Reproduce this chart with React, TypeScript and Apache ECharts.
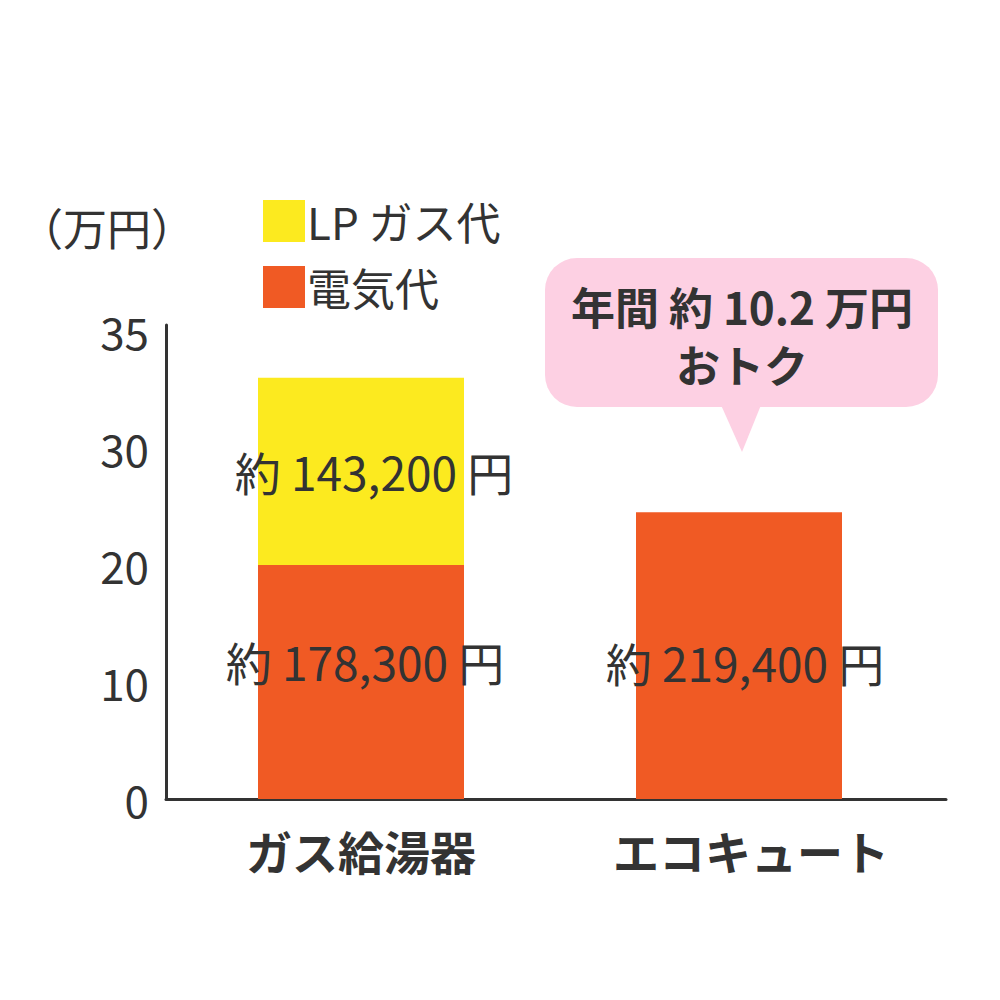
import React, { useEffect, useRef } from "react";
import * as echarts from "echarts";

const categories = ["ガス給湯器", "エコキュート"];
// bar heights as drawn in the picture (in the axis' units)
const electricValues = [20, 24.5];
const gasValues = [16, null];
const electricLabels = ["約 178,300 円", "約 219,400 円"];
const gasLabels = ["約 143,200 円", ""];
const tickValues = [0, 10, 20, 30, 40];
const tickLabels = ["0", "10", "20", "30", "35"];
const unitLabel = "（万円）";
const calloutLines = ["年間 約 10.2 万円", "おトク"];

const FONT = "'Noto Sans CJK JP', 'Noto Sans', sans-serif";
const TEXT = "#333333";
const ORANGE = "#F05A24";
const YELLOW = "#FCEA1F";
const PINK = "#FDD0E3";

const App: React.FC = () => {
  const chartRef = useRef<HTMLDivElement>(null);

  useEffect(() => {
    if (!chartRef.current) return;
    const chart = echarts.init(chartRef.current, null, { renderer: "svg" });

    const yMax = 40.5;

    chart.setOption({
      animation: false,
      textStyle: { fontFamily: FONT },
      title: {
        text: unitLabel,
        left: 14,
        top: 200,
        textStyle: { fontFamily: FONT, fontSize: 44, fontWeight: "normal", color: TEXT },
      },
      legend: {
        orient: "vertical",
        left: 258,
        top: 194,
        itemWidth: 42,
        itemHeight: 42,
        itemGap: 22,
        icon: "rect",
        data: ["LP ガス代", "電気代"],
        textStyle: { fontFamily: FONT, fontSize: 44, color: TEXT, padding: [0, 0, 0, -3] },
      },
      grid: [
        // visible axes
        { left: 166, right: 54, top: 325, bottom: 201 },
        // bars
        { left: 172, right: 72, top: 325, bottom: 201 },
      ],
      xAxis: [
        {
          type: "category",
          gridIndex: 0,
          data: categories,
          axisLine: { lineStyle: { color: TEXT, width: 3 } },
          axisTick: { show: false },
          axisLabel: {
            margin: 28,
            fontFamily: FONT,
            fontSize: 46,
            fontWeight: "bold",
            color: TEXT,
          },
        },
        {
          type: "category",
          gridIndex: 1,
          data: categories,
          show: false,
        },
      ],
      yAxis: [
        {
          type: "value",
          gridIndex: 0,
          min: 0,
          max: yMax,
          interval: 10,
          axisLine: { show: true, lineStyle: { color: TEXT, width: 3 } },
          axisTick: { show: false },
          splitLine: { show: false },
          axisLabel: {
            showMaxLabel: false,
            margin: 17,
            fontFamily: FONT,
            fontSize: 44,
            color: TEXT,
            formatter: (v: number) => {
              const i = tickValues.indexOf(v);
              return i >= 0 ? tickLabels[i] : "";
            },
          },
        },
        {
          type: "value",
          gridIndex: 1,
          min: 0,
          max: yMax,
          show: false,
        },
      ],
      series: [
        {
          name: "電気代",
          type: "bar",
          xAxisIndex: 1,
          yAxisIndex: 1,
          stack: "cost",
          barWidth: 206,
          itemStyle: { color: ORANGE },
          data: electricValues.map((v, i) => ({
            value: v,
            label: { offset: i === 0 ? [4, -21] : [6, 6] },
          })),
          label: {
            show: true,
            position: "inside",
            fontFamily: FONT,
            fontSize: 46,
            color: TEXT,
            formatter: (p: any) => electricLabels[p.dataIndex],
          },
        },
        {
          name: "LP ガス代",
          type: "bar",
          xAxisIndex: 1,
          yAxisIndex: 1,
          stack: "cost",
          barWidth: 206,
          itemStyle: { color: YELLOW },
          data: gasValues,
          label: {
            show: true,
            position: "inside",
            offset: [13, 0],
            fontFamily: FONT,
            fontSize: 46,
            color: TEXT,
            formatter: (p: any) => gasLabels[p.dataIndex],
          },
        },
      ],
      graphic: [
        {
          type: "group",
          left: 545,
          top: 258,
          children: [
            {
              type: "rect",
              shape: { x: 0, y: 0, width: 393, height: 149, r: 32 },
              style: { fill: PINK },
            },
            {
              type: "polygon",
              shape: { points: [[176, 147], [216, 147], [197, 194]] },
              style: { fill: PINK },
            },
            {
              type: "text",
              x: 197,
              y: 48,
              style: {
                text: calloutLines[0],
                fontFamily: FONT,
                fontSize: 44,
                lineHeight: 46,
                fontWeight: "bold",
                fill: TEXT,
                align: "center",
                verticalAlign: "middle",
              },
            },
            {
              type: "text",
              x: 197,
              y: 106,
              style: {
                text: calloutLines[1],
                fontFamily: FONT,
                fontSize: 44,
                lineHeight: 46,
                fontWeight: "bold",
                fill: TEXT,
                align: "center",
                verticalAlign: "middle",
              },
            },
          ],
        },
      ],
    });

    return () => chart.dispose();
  }, []);

  return (
    <div
      ref={chartRef}
      style={{ position: "absolute", left: 0, top: 0, width: "1000px", height: "1000px" }}
    />
  );
};

export default App;
